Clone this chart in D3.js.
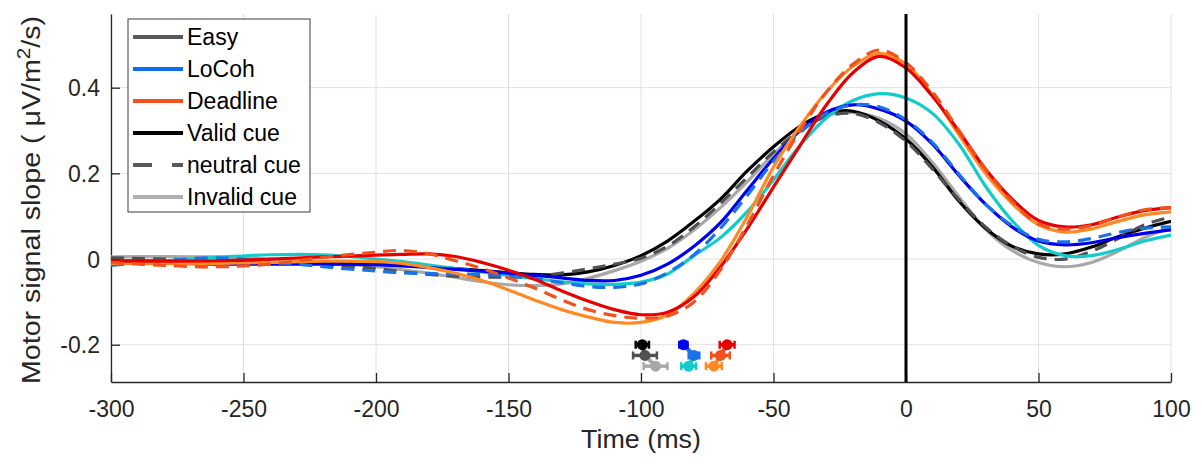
<!DOCTYPE html>
<html><head><meta charset="utf-8">
<script src="https://cdn.jsdelivr.net/npm/d3@7"></script>
<style>body{margin:0;background:#fff}svg{display:block}text{font-family:"Liberation Sans",Arial,sans-serif}</style>
</head><body><svg id="c" width="1202" height="464"></svg>
<script>
const times = [-300,-280,-260,-240,-220,-200,-190,-180,-170,-160,-150,-140,-130,-120,-110,-100,-90,-80,-70,-60,-50,-40,-30,-20,-10,0,10,20,30,40,50,60,70,80,90,100];
const easyValid = [-0.005,-0.005,-0.006,-0.008,-0.01,-0.012,-0.015,-0.018,-0.022,-0.027,-0.032,-0.036,-0.037,-0.03,-0.015,0.008,0.042,0.088,0.14,0.205,0.262,0.31,0.34,0.345,0.322,0.28,0.215,0.135,0.072,0.03,0.012,0.012,0.028,0.052,0.072,0.088];
const easyNeutral = [0.003,0,-0.004,-0.008,-0.014,-0.022,-0.03,-0.036,-0.04,-0.042,-0.042,-0.04,-0.033,-0.023,-0.012,0.002,0.03,0.075,0.13,0.19,0.25,0.3,0.333,0.34,0.318,0.275,0.21,0.138,0.075,0.03,0.004,0,0.018,0.048,0.08,0.098];
const easyInvalid = [0.005,0.006,0.005,0,-0.008,-0.018,-0.025,-0.033,-0.043,-0.053,-0.06,-0.062,-0.058,-0.045,-0.027,-0.005,0.025,0.068,0.12,0.18,0.245,0.3,0.335,0.342,0.328,0.292,0.225,0.145,0.07,0.02,-0.008,-0.018,-0.008,0.018,0.05,0.075];
const locohValid = [-0.01,-0.01,-0.012,-0.012,-0.012,-0.013,-0.016,-0.02,-0.024,-0.028,-0.033,-0.038,-0.044,-0.05,-0.05,-0.038,-0.012,0.03,0.085,0.16,0.235,0.3,0.343,0.36,0.35,0.322,0.268,0.195,0.128,0.075,0.042,0.033,0.038,0.05,0.06,0.068];
const locohNeutral = [-0.015,-0.004,0.003,-0.006,-0.018,-0.028,-0.032,-0.034,-0.035,-0.036,-0.04,-0.046,-0.055,-0.064,-0.066,-0.058,-0.032,0.01,0.072,0.148,0.228,0.295,0.34,0.36,0.355,0.325,0.272,0.198,0.128,0.078,0.046,0.04,0.048,0.062,0.072,0.075];
const locohInvalid = [-0.01,-0.004,0.004,0.01,0.01,0,-0.006,-0.014,-0.022,-0.03,-0.038,-0.046,-0.053,-0.058,-0.059,-0.054,-0.035,0.008,0.05,0.11,0.185,0.265,0.33,0.37,0.386,0.376,0.34,0.268,0.17,0.09,0.032,0.008,0.008,0.022,0.042,0.056];
const deadlineValid = [-0.005,-0.005,-0.004,0,0.005,0.009,0.011,0.012,0.006,-0.008,-0.026,-0.048,-0.074,-0.098,-0.118,-0.13,-0.124,-0.088,-0.018,0.07,0.168,0.265,0.36,0.435,0.473,0.446,0.38,0.298,0.21,0.14,0.09,0.075,0.08,0.098,0.113,0.12];
const deadlineNeutral = [-0.008,-0.015,-0.018,-0.012,0.004,0.016,0.02,0.012,-0.004,-0.022,-0.044,-0.068,-0.095,-0.118,-0.132,-0.138,-0.133,-0.1,-0.025,0.078,0.195,0.3,0.39,0.455,0.488,0.458,0.39,0.3,0.21,0.135,0.082,0.07,0.078,0.098,0.115,0.12];
const deadlineInvalid = [-0.01,-0.01,-0.01,-0.008,-0.005,-0.006,-0.01,-0.02,-0.033,-0.05,-0.072,-0.096,-0.118,-0.135,-0.148,-0.148,-0.13,-0.08,-0.005,0.098,0.215,0.31,0.39,0.45,0.48,0.455,0.382,0.29,0.2,0.13,0.08,0.063,0.07,0.088,0.103,0.11];

// onset markers (time, value, half-width error) per condition: valid, neutral, invalid
const onsetY = [-0.2,-0.225,-0.25];
const easyOnset = [-99.5,-98.5,-94.5];
const locohOnset = [-84,-80,-82];
const deadlineOnset = [-67.5,-70,-72.5];
const easyErr = [2.5,4.5,4.5];
const locohErr = [1.5,2,2.8];
const deadlineErr = [2.8,3.5,3];

const xTicks = [-300,-250,-200,-150,-100,-50,0,50,100];
const yTicks = [-0.2,0,0.2,0.4];
const xTickLabels = ["-300","-250","-200","-150","-100","-50","0","50","100"];
const yTickLabels = ["-0.2","0","0.2","0.4"];
const legendLabels = ["Easy","LoCoh","Deadline","Valid cue","neutral cue","Invalid cue"];

const colors = {
  easy:["#000000","#505050","#a8a8a8"],
  locoh:["#0000ee","#1a72e8","#12cccc"],
  deadline:["#e60000","#f2501e","#ff8a24"]
};

const svg = d3.select("#c");
const L=111,R=1171,T=14,B=382;
const x = d3.scaleLinear().domain([-300,100]).range([L,R]);
const y = d3.scaleLinear().domain([-0.287,0.572]).range([B,T]);

// grid
svg.append("g").selectAll("line").data(xTicks).join("line")
  .attr("x1",d=>x(d)).attr("x2",d=>x(d)).attr("y1",T).attr("y2",B)
  .attr("stroke","#e0e0e0").attr("stroke-width",1);
svg.append("g").selectAll("line").data(yTicks).join("line")
  .attr("x1",L).attr("x2",R).attr("y1",d=>y(d)).attr("y2",d=>y(d))
  .attr("stroke","#e0e0e0").attr("stroke-width",1);

// axes
const xAxis = d3.axisBottom(x).tickValues(xTicks).tickSizeInner(-9).tickSizeOuter(0).tickFormat((d,i)=>xTickLabels[i]);
const gx = svg.append("g").attr("transform",`translate(0,${B})`).call(xAxis);
const yAxis = d3.axisLeft(y).tickValues(yTicks).tickSizeInner(-9).tickSizeOuter(0).tickFormat((d,i)=>yTickLabels[i]);
const gy = svg.append("g").attr("transform",`translate(${L},0)`).call(yAxis);
[gx,gy].forEach(g=>{
  g.select(".domain").attr("stroke","#262626").attr("stroke-width",1.3);
  g.selectAll(".tick line").attr("stroke","#262626").attr("stroke-width",1.3);
  g.selectAll(".tick text").attr("fill","#262626").attr("font-size",23).attr("font-family","Liberation Sans, Arial, sans-serif");
});
gx.selectAll(".tick text").attr("dy","0.71em").attr("y",19);
gy.selectAll(".tick text").attr("x",-11).attr("dy","0.35em");

// clip
svg.append("clipPath").attr("id","clip").append("rect").attr("x",L).attr("y",T).attr("width",R-L).attr("height",B-T);

const line = d3.line().x((d,i)=>x(times[i])).y(d=>y(d)).curve(d3.curveCatmullRom.alpha(0.5));
const plot = svg.append("g").attr("clip-path","url(#clip)");
const series = [
  [easyInvalid,colors.easy[2],null],[easyValid,colors.easy[0],null],[easyNeutral,colors.easy[1],"13,8"],
  [locohInvalid,colors.locoh[2],null],[locohValid,colors.locoh[0],null],[locohNeutral,colors.locoh[1],"13,8"],
  [deadlineInvalid,colors.deadline[2],null],[deadlineValid,colors.deadline[0],null],[deadlineNeutral,colors.deadline[1],"13,8"]
];
series.forEach(([vals,c,dash])=>{
  plot.append("path").datum(vals).attr("d",line).attr("fill","none")
    .attr("stroke",c).attr("stroke-width",3.2).attr("stroke-dasharray",dash);
});

// zero line
svg.append("line").attr("x1",x(0)).attr("x2",x(0)).attr("y1",T).attr("y2",B)
  .attr("stroke","#000").attr("stroke-width",3);

// onset markers
const mk = svg.append("g");
[[easyOnset,easyErr,colors.easy],[locohOnset,locohErr,colors.locoh],[deadlineOnset,deadlineErr,colors.deadline]].forEach(([ts,es,cs])=>{
  for(let i=0;i<2;i++){
    mk.append("line").attr("x1",x(ts[i])).attr("y1",y(onsetY[i])).attr("x2",x(ts[i+1])).attr("y2",y(onsetY[i+1]))
      .attr("stroke",cs[i+1]).attr("stroke-width",4);
  }
  ts.forEach((t,i)=>{
    const cy=y(onsetY[i]);
    mk.append("line").attr("x1",x(t-es[i])).attr("x2",x(t+es[i])).attr("y1",cy).attr("y2",cy).attr("stroke",cs[i]).attr("stroke-width",3.5);
    [t-es[i],t+es[i]].forEach(e=>mk.append("line").attr("x1",x(e)).attr("x2",x(e)).attr("y1",cy-4).attr("y2",cy+4).attr("stroke",cs[i]).attr("stroke-width",2.5));
    mk.append("circle").attr("cx",x(t)).attr("cy",cy).attr("r",5.5).attr("fill",cs[i]);
  });
});

// legend
const lg = svg.append("g");
lg.append("rect").attr("x",128).attr("y",19).attr("width",182).attr("height",193).attr("fill","#fff").attr("stroke","#3a3a3a").attr("stroke-width",1);
const legColors = ["#5a5a5a","#0d6ef0","#f5501e","#000000","#5a5a5a","#b0b0b0"];
const legDash = [null,null,null,null,"19,20",null];
legendLabels.forEach((lab,i)=>{
  const cy = 37 + i*32;
  lg.append("line").attr("x1",133).attr("x2",183).attr("y1",cy).attr("y2",cy).attr("stroke",legColors[i]).attr("stroke-width",4).attr("stroke-dasharray",legDash[i]);
  lg.append("text").attr("x",187).attr("y",cy+8).attr("font-size",23).attr("fill","#000").text(lab);
});

// axis labels
svg.append("text").attr("x",(L+R)/2).attr("y",448).attr("text-anchor","middle").attr("font-size",25).attr("fill","#262626")
  .attr("textLength",120).attr("lengthAdjust","spacingAndGlyphs").text("Time (ms)");
const yl = svg.append("text").attr("transform","translate(40,200) rotate(-90)").attr("text-anchor","middle").attr("font-size",25).attr("fill","#262626")
  .attr("textLength",368).attr("lengthAdjust","spacingAndGlyphs");
yl.append("tspan").text("Motor signal slope ( ");
yl.append("tspan").text("μV/m");
yl.append("tspan").attr("dy",-10).attr("font-size",18).text("2");
yl.append("tspan").attr("dy",10).text("/s)");
</script></body></html>
